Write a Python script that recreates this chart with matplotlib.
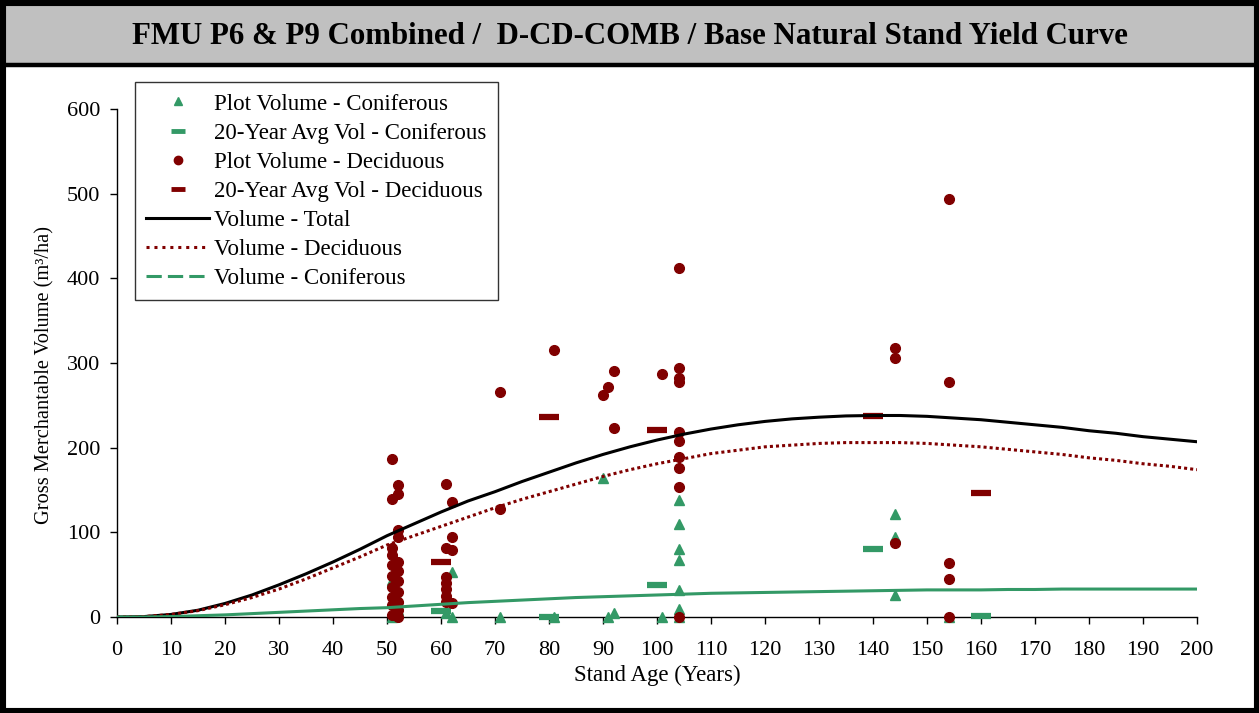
import matplotlib
matplotlib.use("Agg")
import matplotlib.pyplot as plt
from matplotlib.lines import Line2D
from matplotlib.patches import Rectangle

plt.rcParams['font.family'] = ['Liberation Serif', 'DejaVu Serif']

# ---- data ----
curve_age = [0, 5, 10, 15, 20, 25, 30, 35, 40, 45, 50, 55, 60, 65, 70, 75, 80, 85, 90, 95, 100,
             105, 110, 115, 120, 125, 130, 135, 140, 145, 150, 155, 160, 165, 170, 175, 180,
             185, 190, 195, 200]
vol_total = [0, 0.5, 3, 8, 16, 26, 38, 51, 65, 80, 96, 110, 124, 137, 148, 160, 171, 182, 192,
             201, 209, 216, 222, 227, 231, 234, 236, 237.5, 238, 238, 237, 235, 233, 230, 227,
             224, 220, 217, 213, 210, 207]
vol_dec = [0, 0.5, 3, 7.5, 14.5, 23, 33, 45, 58, 71, 85, 96, 107, 118, 129, 139, 148, 157, 166,
           174, 181, 187, 193, 197, 201, 203, 205, 206, 206, 206, 205, 203, 201, 198, 195, 192,
           188, 185, 181, 178, 174]
vol_con = [0, 0, 0.5, 1.5, 2.5, 4, 5.5, 7, 8.5, 10, 11, 13, 15, 17, 18.5, 20, 21.5, 23, 24,
           25, 26, 27, 28, 28.5, 29, 29.5, 30, 30.5, 31, 31.5, 32, 32, 32, 32.5, 32.5, 33, 33,
           33, 33, 33, 33]

con_age = [51, 51, 52, 52, 61, 62, 62, 71, 81, 90, 91, 92, 101,
           104, 104, 104, 104, 104, 104, 104, 144, 144, 144, 154]
con_vol = [44, 0, 22, 8, 5, 53, 0, 0, 0, 164, 0, 5, 0,
           138, 110, 80, 67, 32, 9, 0, 122, 94, 26, 0]

dec_age = [51, 52, 52, 51, 52, 52, 51, 51, 52, 51, 52, 51, 52, 51, 52, 51, 52, 51, 52, 51, 52,
           61, 62, 62, 61, 62, 61, 61, 61, 61, 61, 62,
           71, 71, 81, 90, 91, 92, 92, 101,
           104, 104, 104, 104, 104, 104, 104, 104, 104, 104,
           144, 144, 144, 154, 154, 154, 154, 154]
dec_vol = [187, 156, 145, 139, 103, 95, 81, 73, 65, 61, 54, 48, 42, 36, 30, 24, 18, 14, 8, 2, 0,
           157, 136, 94, 82, 79, 47, 40, 33, 25, 18, 16,
           266, 127, 315, 262, 272, 290, 223, 287,
           412, 294, 282, 277, 219, 208, 189, 176, 153, 0,
           318, 306, 87, 494, 278, 64, 45, 0]

avg_age = [60, 80, 100, 140, 160]
avg_con = [7, 0, 38, 80, 1]
avg_dec = [65, 236, 221, 237, 147]

GREEN = '#339966'
RED = '#800000'

W, H = 1259, 713
fig = plt.figure(figsize=(W / 100, H / 100), dpi=100)

# frame and title band
fig.patches.append(Rectangle((0, 1 - 64 / H), 1, 64 / H, transform=fig.transFigure,
                             facecolor='#c0c0c0', edgecolor='none', zorder=0))
fig.add_artist(Line2D([0, 1], [1 - 65 / H, 1 - 65 / H], transform=fig.transFigure,
                      color='black', lw=3.2))
fig.patches.append(Rectangle((0, 0), 1, 1, transform=fig.transFigure, facecolor='none',
                             edgecolor='black', lw=8, zorder=10))
fig.text(0.5, 1 - 37 / H, 'FMU P6 & P9 Combined /  D-CD-COMB / Base Natural Stand Yield Curve',
         ha='center', va='center', fontsize=22.2, fontweight='bold')

ax = fig.add_axes([117 / W, 1 - 617 / H, 1080 / W, 508 / H])
ax.set_xlim(0, 200)
ax.set_ylim(0, 600)
ax.set_xticks(range(0, 201, 10))
ax.set_yticks(range(0, 601, 100))
for s in ['top', 'right']:
    ax.spines[s].set_visible(False)
for s in ['left', 'bottom']:
    ax.spines[s].set_linewidth(1.0)
ax.tick_params(direction='out', length=5, width=1, labelsize=16)
ax.tick_params(axis='x', pad=12)
ax.tick_params(axis='y', pad=7)
ax.set_xlabel('Stand Age (Years)', fontsize=16.5, labelpad=4)
ax.set_ylabel('Gross Merchantable Volume (m³/ha)', fontsize=14.7, labelpad=9)
ax.yaxis.label.set_y(0.476)

ax.plot(con_age, con_vol, linestyle='none', marker='^', color=GREEN, markersize=7.5, zorder=3,
        clip_on=False)
ax.plot(avg_age, avg_con, linestyle='none', marker='_', color=GREEN, markersize=14.5,
        markeredgewidth=4.5, zorder=3, clip_on=False)
ax.plot(dec_age, dec_vol, linestyle='none', marker='o', color=RED, markersize=7, zorder=4,
        clip_on=False)
ax.plot(avg_age, avg_dec, linestyle='none', marker='_', color=RED, markersize=14.5,
        markeredgewidth=4.5, zorder=4, clip_on=False)
ax.plot(curve_age, vol_total, color='black', lw=2.2, zorder=5)
ax.plot(curve_age, vol_dec, color=RED, lw=2.2, linestyle=(0, (1, 1)), zorder=5)
ax.plot(curve_age, vol_con, color=GREEN, lw=2.2, zorder=5)

handles = [
    Line2D([], [], linestyle='none', marker='^', color=GREEN, markersize=6),
    Line2D([], [], linestyle='none', marker='_', color=GREEN, markersize=10, markeredgewidth=3.5),
    Line2D([], [], linestyle='none', marker='o', color=RED, markersize=6),
    Line2D([], [], linestyle='none', marker='_', color=RED, markersize=10, markeredgewidth=3.5),
    Line2D([], [], color='black', lw=2.2),
    Line2D([], [], color=RED, lw=2.2, linestyle=(0, (1, 1.6))),
    Line2D([], [], color=GREEN, lw=2.2, linestyle=(0, (5, 2))),
]
labels = ['Plot Volume - Coniferous', '20-Year Avg Vol - Coniferous', 'Plot Volume - Deciduous',
          '20-Year Avg Vol - Deciduous', 'Volume - Total', 'Volume - Deciduous',
          'Volume - Coniferous']
leg = ax.legend(handles, labels, loc='upper left', bbox_to_anchor=(18 / 1080, 1 + 27 / 508),
                borderaxespad=0, fontsize=16.5, frameon=True, fancybox=False, shadow=False,
                edgecolor='black', handlelength=2.75, handletextpad=0.2, labelspacing=0.35,
                borderpad=0.5)
leg.get_frame().set_linewidth(1.0)

fig.savefig('out.png', dpi=100)
